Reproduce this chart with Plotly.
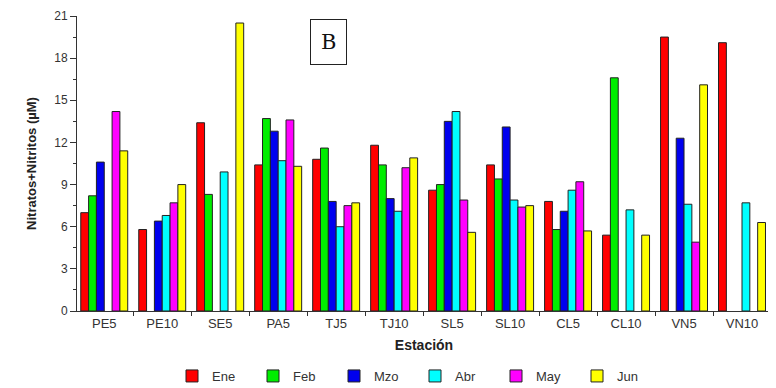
import plotly.graph_objects as go

stations = ["PE5", "PE10", "SE5", "PA5", "TJ5", "TJ10", "SL5", "SL10", "CL5", "CL10", "VN5", "VN10"]
months = ["Ene", "Feb", "Mzo", "Abr", "May", "Jun"]
colors = ["#FF0000", "#00EE00", "#0000EE", "#00FFFF", "#FF00FF", "#FFFF00"]

ene = [7.0, 5.8, 13.4, 10.4, 10.8, 11.8, 8.6, 10.4, 7.8, 5.4, 19.5, 19.1]
feb = [8.2, None, 8.3, 13.7, 11.6, 10.4, 9.0, 9.4, 5.8, 16.6, None, None]
mzo = [10.6, 6.4, None, 12.8, 7.8, 8.0, 13.5, 13.1, 7.1, None, 12.3, None]
abr = [None, 6.8, 9.9, 10.7, 6.0, 7.1, 14.2, 7.9, 8.6, 7.2, 7.6, 7.7]
may = [14.2, 7.7, None, 13.6, 7.5, 10.2, 7.9, 7.4, 9.2, None, 4.9, None]
jun = [11.4, 9.0, 20.5, 10.3, 7.7, 10.9, 5.6, 7.5, 5.7, 5.4, 16.1, 6.3]

series = [ene, feb, mzo, abr, may, jun]

fig = go.Figure()
for name, vals, col in zip(months, series, colors):
    fig.add_trace(go.Bar(
        x=stations, y=vals, name=name,
        marker=dict(color=col, line=dict(color="#222222", width=1)),
    ))

# page body has an 8px offset; figure coordinates = screen coordinates - 8
OFF = 8
W, H = 776 - OFF, 388 - OFF
L, R, T = 77 - OFF, 5, 8
PW = W - L - R
PH = 295
B = H - T - PH

def px_x(sx):
    return (sx - OFF - L) / PW

def px_y(sy):
    return (T + PH - (sy - OFF)) / PH

fig.update_layout(
    width=W, height=H,
    margin=dict(l=L, r=R, t=T, b=B, autoexpand=False),
    paper_bgcolor="white", plot_bgcolor="white",
    barmode="group", bargap=0.19, bargroupgap=0,
    font=dict(family="Arial, Liberation Sans, sans-serif", size=12, color="#333333"),
    showlegend=True,
    legend=dict(orientation="h", x=px_x(415), xanchor="center", y=px_y(376), yanchor="middle",
                font=dict(size=13, color="#333333"), tracegroupgap=0,
                entrywidth=36, entrywidthmode="pixels"),
    xaxis=dict(
        range=[-0.47, 11.5], automargin=False,
        showline=True, linecolor="#333333", linewidth=1,
        ticks="outside", tickson="boundaries", ticklen=4, tickcolor="#333333",
        tickfont=dict(size=13, color="#333333"),
        title=dict(text="<b>Estación</b>", font=dict(size=14, color="#222222"), standoff=10),
        showgrid=False, zeroline=False,
    ),
    yaxis=dict(
        range=[0, 21], tickvals=[0, 3, 6, 9, 12, 15, 18, 21], automargin=False,
        ticklabeloverflow="allow",
        showline=True, linecolor="#333333", linewidth=1,
        ticks="outside", ticklen=6, tickcolor="#333333",
        minor=dict(dtick=1.5, ticks="outside", ticklen=3, tickcolor="#333333", showgrid=False),
        tickfont=dict(size=12, color="#333333"),
        title=dict(text="<b>Nitratos+Nitritos (µM)</b>",
                   font=dict(family="Liberation Sans Narrow, Arial Narrow, Arial, sans-serif", size=13, color="#222222"),
                   standoff=14),
        showgrid=False, zeroline=False,
    ),
    annotations=[dict(
        text="B", xref="paper", yref="paper", x=px_x(328.5), y=px_y(42),
        showarrow=False, font=dict(family="DejaVu Serif, Liberation Serif, serif", size=21, color="#111111"),
        bordercolor="#222222", borderwidth=1, borderpad=10, bgcolor="white",
        xanchor="center", yanchor="middle",
    )],
)

fig.write_html("out.html")
